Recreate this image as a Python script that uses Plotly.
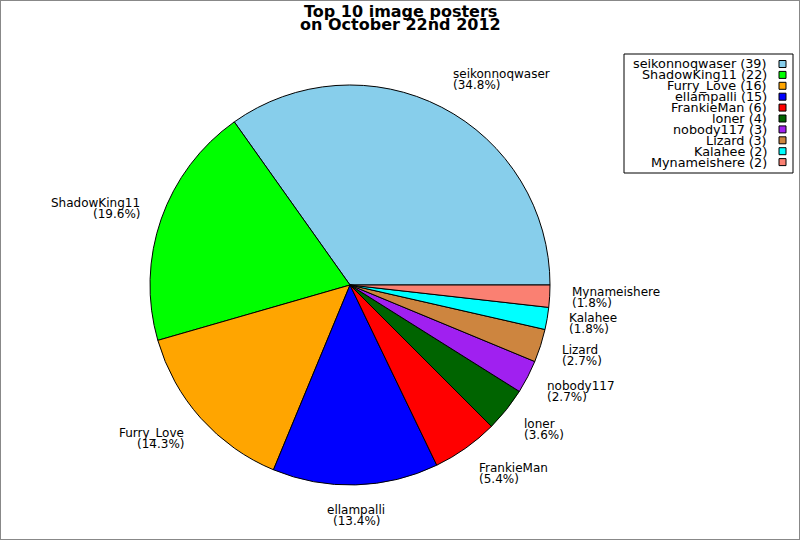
import math
import plotly.graph_objects as go

# data
posters = ["seikonnoqwaser", "ShadowKing11", "Furry_Love", "ellampalli", "FrankieMan",
           "loner", "nobody117", "Lizard", "Kalahee", "Mynameishere"]
counts = [39, 22, 16, 15, 6, 4, 3, 3, 2, 2]
colors = ["#87CEEB", "#00FF00", "#FFA500", "#0000FF", "#FF0000",
          "#006400", "#A020F0", "#CD853F", "#00FFFF", "#FA8072"]
title_lines = ["Top 10 image posters", "on October 22nd 2012"]

W, H = 800, 540
cx, cy, R = 350, 285, 200
FONT = "DejaVu Sans"


def px(x):
    return x / W


def py(y):
    return 1 - y / H


total = sum(counts)

fig = go.Figure()
# plotly puts the first slice clockwise of `rotation` when going counterclockwise,
# so shift it back so the first slice starts at 3 o'clock
fig.add_trace(go.Pie(
    labels=posters,
    values=counts,
    sort=False,
    direction="counterclockwise",
    rotation=90 - 360.0 * counts[0] / total,
    marker=dict(colors=colors, line=dict(color="black", width=1)),
    textinfo="none",
    hoverinfo="label+value+percent",
    domain=dict(x=[px(cx - R), px(cx + R)], y=[py(cy + R), py(cy - R)]),
    showlegend=False,
))

annotations = []
start = 0.0
for name, n in zip(posters, counts):
    frac = n / total
    mid = 2 * math.pi * (start + frac / 2)
    start += frac
    c, s = math.cos(mid), math.sin(mid)
    lx = cx + 1.1 * R * c
    ly = cy - 1.1 * R * s - 11 * s
    if c > 0.1:
        xa = "left"
    elif c < -0.1:
        xa = "right"
    else:
        xa = "center"
    for txt, dy in ((name, -5.5), ("(%.1f%%)" % (100 * frac), 5.5)):
        annotations.append(dict(x=px(lx), y=py(ly + dy), xref="paper", yref="paper",
                                text=txt, showarrow=False, xanchor=xa, yanchor="middle",
                                align=xa, font=dict(family=FONT, size=12, color="black")))

# title
for i, line in enumerate(title_lines):
    annotations.append(dict(x=0.5, y=py(11 + 14 * i), xref="paper", yref="paper",
                            text="<b>%s</b>" % line, showarrow=False,
                            xanchor="center", yanchor="middle",
                            font=dict(family=FONT, size=16, color="black")))

# legend with text on the left, swatch on the right
shapes = [dict(type="rect", xref="paper", yref="paper", x0=px(624), x1=px(793),
               y0=py(173), y1=py(54), line=dict(color="black", width=1),
               fillcolor="white", layer="below")]
for i, (name, n, col) in enumerate(zip(posters, counts, colors)):
    ry = 64 + 10.9 * i
    annotations.append(dict(x=px(769), y=py(ry), xref="paper", yref="paper",
                            text="%s (%d)" % (name, n), showarrow=False,
                            xanchor="right", yanchor="middle",
                            font=dict(family=FONT, size=12.8, color="black")))
    shapes.append(dict(type="rect", xref="paper", yref="paper",
                       x0=px(779), x1=px(786), y0=py(ry + 3.5), y1=py(ry - 3.5),
                       line=dict(color="black", width=1), fillcolor=col))

# outer frame
shapes.append(dict(type="rect", xref="paper", yref="paper", x0=0, x1=1, y0=0, y1=1,
                   line=dict(color="#888888", width=2)))

fig.update_layout(
    width=W, height=H,
    margin=dict(l=0, r=0, t=0, b=0),
    paper_bgcolor="white",
    plot_bgcolor="white",
    annotations=annotations,
    shapes=shapes,
    font=dict(family=FONT),
)

fig.write_html("out.html", config={"displayModeBar": False},
               post_script="document.body.style.margin='0px';")
